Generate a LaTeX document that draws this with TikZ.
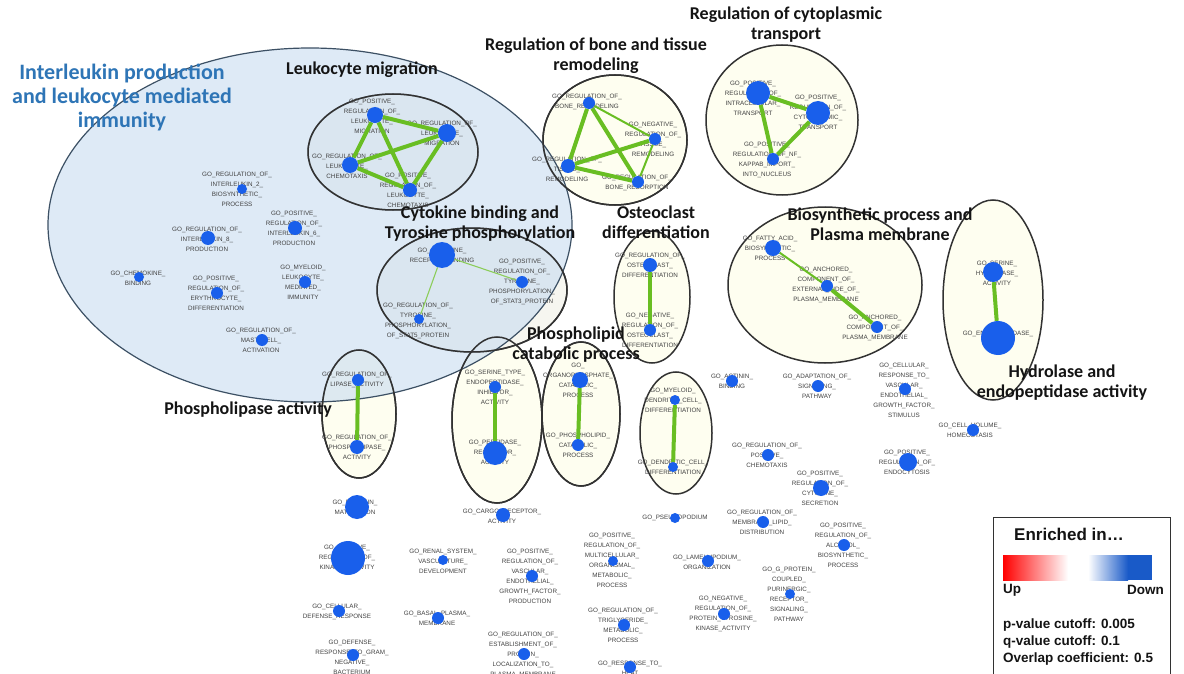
\documentclass[tikz,border=0pt]{standalone}
\usepackage{fontspec}
\setmainfont{Liberation Sans}
\newfontfamily\titlefont{Carlito}
\pgfdeclarelayer{bg}\pgfdeclarelayer{ell}\pgfdeclarelayer{lab}\pgfdeclarelayer{edg}
\pgfsetlayers{bg,ell,lab,edg,main}
\definecolor{dotblue}{RGB}{25,95,235}
\definecolor{labgray}{RGB}{65,65,65}
\definecolor{cream}{RGB}{254,254,240}
\definecolor{innerfill}{RGB}{246,246,240}
\definecolor{bigblue}{RGB}{200,220,240}
\definecolor{bigborder}{RGB}{60,80,100}
\definecolor{ellborder}{RGB}{50,50,50}
\definecolor{edgegreen}{RGB}{105,190,35}
\definecolor{thingreen}{RGB}{140,205,90}
\definecolor{titleblue}{RGB}{46,117,182}
\definecolor{titleblack}{RGB}{20,20,20}
\definecolor{legblue}{RGB}{25,90,200}
\tikzset{
  godot/.style={circle, fill=dotblue, inner sep=0pt, draw=none},
  golab/.style={font=\fontsize{6.3}{10}\selectfont, text=labgray, align=center, inner sep=0pt},
  thick edge/.style={draw=edgegreen, line width=4pt},
  mid edge/.style={draw=edgegreen, line width=2pt},
  thin edge/.style={draw=thingreen, line width=1.1pt},
  cluster/.style={draw=ellborder, line width=1.5pt, fill=cream},
  ctitle/.style={font=\titlefont\bfseries\fontsize{18}{20}\selectfont, align=center, inner sep=0pt, text=titleblack},
  legtext/.style={font=\bfseries\fontsize{13.5}{15}\selectfont, inner sep=0pt, text=titleblack},
}
\newcommand\gonode[7]{%
  \node[godot, minimum size={2*#4pt}] (#1) at (#2,#3) {};
  \begin{pgfonlayer}{lab}\node[golab] (#1l) at (#5,#6) {#7};\end{pgfonlayer}}
\begin{document}
\begin{tikzpicture}[x=1pt,y=-1pt]
\useasboundingbox (0,0) rectangle (1184,674);
\begin{pgfonlayer}{bg}
\fill[white] (0,0) rectangle (1184,674);
\end{pgfonlayer}
\begin{pgfonlayer}{ell}
% clusters under the big ellipse
\draw[cluster] (359,414) ellipse [x radius=37pt, y radius=64pt];
\draw[cluster] (497,420) ellipse [x radius=45pt, y radius=83pt];
\draw[cluster] (581,414) ellipse [x radius=39pt, y radius=72pt];
\draw[cluster] (615,140) ellipse [x radius=72pt, y radius=65pt];
\draw[cluster, fill=innerfill] (393,152) ellipse [x radius=85pt, y radius=58pt];
\draw[cluster, fill=innerfill] (472,290) ellipse [x radius=95pt, y radius=62pt];
% big blue ellipse
\draw[draw=bigborder, line width=1.2pt, fill=bigblue, fill opacity=0.6] (310,225) ellipse [x radius=262pt, y radius=177pt];
% restroke cluster borders
\draw[draw=ellborder, line width=1.5pt] (359,414) ellipse [x radius=37pt, y radius=64pt];
\draw[draw=ellborder, line width=1.5pt] (497,420) ellipse [x radius=45pt, y radius=83pt];
\draw[draw=ellborder, line width=1.5pt] (581,414) ellipse [x radius=39pt, y radius=72pt];
\draw[draw=ellborder, line width=1.5pt] (615,140) ellipse [x radius=72pt, y radius=65pt];
\draw[draw=ellborder, line width=1.5pt] (393,152) ellipse [x radius=85pt, y radius=58pt];
\draw[draw=ellborder, line width=1.5pt] (472,290) ellipse [x radius=95pt, y radius=62pt];
% other clusters
\draw[cluster] (782,120) ellipse [x radius=76pt, y radius=75pt];
\draw[cluster] (652,297) ellipse [x radius=38pt, y radius=66pt];
\draw[cluster] (825,285) ellipse [x radius=97pt, y radius=78pt];
\draw[cluster] (993,300) ellipse [x radius=50pt, y radius=100pt];
\draw[cluster] (676,433) ellipse [x radius=36pt, y radius=61pt];
\end{pgfonlayer}

% ---- Leukocyte migration
\gonode{a1}{375}{115}{8}{372}{116}{GO\_POSITIVE\_\\REGULATION\_OF\_\\LEUKOCYTE\_\\MIGRATION}
\gonode{a2}{447}{133}{9}{442}{133}{GO\_REGULATION\_OF\_\\LEUKOCYTE\_\\MIGRATION}
\gonode{a3}{350}{165}{8}{347}{166}{GO\_REGULATION\_OF\_\\LEUKOCYTE\_\\CHEMOTAXIS}
\gonode{a4}{410}{190}{7}{408}{190}{GO\_POSITIVE\_\\REGULATION\_OF\_\\LEUKOCYTE\_\\CHEMOTAXIS}
% ---- Bone
\gonode{b1}{589}{103}{6}{587}{102}{GO\_REGULATION\_OF\_\\BONE\_REMODELING}
\gonode{b2}{655}{139}{6}{653}{139}{GO\_NEGATIVE\_\\REGULATION\_OF\_\\TISSUE\_\\REMODELING}
\gonode{b3}{568}{166}{7}{567}{169}{GO\_REGULATION\_OF\_\\TISSUE\_\\REMODELING}
\gonode{b4}{638}{182}{6}{637}{183}{GO\_REGULATION\_OF\_\\BONE\_RESORPTION}
% ---- Cytoplasmic transport
\gonode{c1}{758}{93}{12}{753}{98}{GO\_POSITIVE\_\\REGULATION\_OF\_\\INTRACELLULAR\_\\TRANSPORT}
\gonode{c2}{818}{113}{12}{818}{112}{GO\_POSITIVE\_\\REGULATION\_OF\_\\CYTOPLASMIC\_\\TRANSPORT}
\gonode{c3}{773}{159}{6}{767}{160}{GO\_POSITIVE\_\\REGULATION\_OF\_NF\_\\KAPPAB\_IMPORT\_\\INTO\_NUCLEUS}
% ---- Osteoclast
\gonode{d1}{650}{265}{7}{650}{265}{GO\_REGULATION\_OF\_\\OSTEOCLAST\_\\DIFFERENTIATION}
\gonode{d2}{650}{330}{6}{650}{330}{GO\_NEGATIVE\_\\REGULATION\_OF\_\\OSTEOCLAST\_\\DIFFERENTIATION}
% ---- Biosynthetic
\gonode{e1}{773}{248}{8}{770}{248}{GO\_FATTY\_ACID\_\\BIOSYNTHETIC\_\\PROCESS}
\gonode{e2}{827}{286}{6}{826}{285}{GO\_ANCHORED\_\\COMPONENT\_OF\_\\EXTERNAL\_SIDE\_OF\_\\PLASMA\_MEMBRANE}
\gonode{e3}{877}{327}{6}{875}{328}{GO\_ANCHORED\_\\COMPONENT\_OF\_\\PLASMA\_MEMBRANE}
% ---- Hydrolase
\gonode{f1}{993}{272}{10}{997}{273}{GO\_SERINE\_\\HYDROLASE\_\\ACTIVITY}
\gonode{f2}{998}{338}{17}{998}{338}{GO\_ENDOPEPTIDASE\_\\ACTIVITY}
% ---- Cytokine
\gonode{g1}{442}{255}{13}{442}{256}{GO\_CYTOKINE\_\\RECEPTOR\_BINDING}
\gonode{g2}{522}{282}{6}{522}{282}{GO\_POSITIVE\_\\REGULATION\_OF\_\\TYROSINE\_\\PHOSPHORYLATION\_\\OF\_STAT3\_PROTEIN}
\gonode{g3}{419}{319}{5}{418}{321}{GO\_REGULATION\_OF\_\\TYROSINE\_\\PHOSPHORYLATION\_\\OF\_STAT5\_PROTEIN}
% ---- Phospholipase
\gonode{h1}{358}{380}{6}{357}{380}{GO\_REGULATION\_OF\_\\LIPASE\_ACTIVITY}
\gonode{h2}{357}{447}{7}{357}{447}{GO\_REGULATION\_OF\_\\PHOSPHOLIPASE\_\\ACTIVITY}
% ---- Serine type
\gonode{i1}{495}{387}{6}{495}{387}{GO\_SERINE\_TYPE\_\\ENDOPEPTIDASE\_\\INHIBITOR\_\\ACTIVITY}
\gonode{i2}{495}{453}{12}{495}{452}{GO\_PEPTIDASE\_\\REGULATOR\_\\ACTIVITY}
% ---- Phospholipid
\gonode{j1}{580}{380}{8}{578}{380}{GO\_\\ORGANOPHOSPHATE\_\\CATABOLIC\_\\PROCESS}
\gonode{j2}{578}{445}{6}{578}{445}{GO\_PHOSPHOLIPID\_\\CATABOLIC\_\\PROCESS}
% ---- Myeloid dendritic
\gonode{k1}{675}{400}{5}{673}{400}{GO\_MYELOID\_\\DENDRITIC\_CELL\_\\DIFFERENTIATION}
\gonode{k2}{673}{467}{5}{673}{467}{GO\_DENDRITIC\_CELL\_\\DIFFERENTIATION}
% ---- Unclustered, in the blue ellipse
\gonode{u1}{242}{189}{5}{237}{189}{GO\_REGULATION\_OF\_\\INTERLEUKIN\_2\_\\BIOSYNTHETIC\_\\PROCESS}
\gonode{u2}{295}{228}{7}{294}{228}{GO\_POSITIVE\_\\REGULATION\_OF\_\\INTERLEUKIN\_6\_\\PRODUCTION}
\gonode{u3}{208}{238}{7}{207}{239}{GO\_REGULATION\_OF\_\\INTERLEUKIN\_8\_\\PRODUCTION}
\gonode{u4}{139}{277}{5}{138}{278}{GO\_CHEMOKINE\_\\BINDING}
\gonode{u5}{217}{293}{6}{216}{293}{GO\_POSITIVE\_\\REGULATION\_OF\_\\ERYTHROCYTE\_\\DIFFERENTIATION}
\gonode{u6}{305}{282}{6}{303}{282}{GO\_MYELOID\_\\LEUKOCYTE\_\\MEDIATED\_\\IMMUNITY}
\gonode{u7}{262}{340}{6}{261}{340}{GO\_REGULATION\_OF\_\\MAST\_CELL\_\\ACTIVATION}
% ---- Unclustered, elsewhere
\gonode{v1}{732}{381}{6}{732}{381}{GO\_ACTININ\_\\BINDING}
\gonode{v2}{818}{386}{6}{817}{386}{GO\_ADAPTATION\_OF\_\\SIGNALING\_\\PATHWAY}
\gonode{v3}{905}{389}{6}{904}{390}{GO\_CELLULAR\_\\RESPONSE\_TO\_\\VASCULAR\_\\ENDOTHELIAL\_\\GROWTH\_FACTOR\_\\STIMULUS}
\gonode{v4}{973}{430}{6}{970}{430}{GO\_CELL\_VOLUME\_\\HOMEOSTASIS}
\gonode{v5}{768}{455}{6}{767}{455}{GO\_REGULATION\_OF\_\\POSITIVE\_\\CHEMOTAXIS}
\gonode{v6}{908}{462}{9}{907}{462}{GO\_POSITIVE\_\\REGULATION\_OF\_\\ENDOCYTOSIS}
\gonode{v7}{821}{488}{8}{820}{488}{GO\_POSITIVE\_\\REGULATION\_OF\_\\CYTOKINE\_\\SECRETION}
\gonode{v8}{763}{522}{6}{762}{522}{GO\_REGULATION\_OF\_\\MEMBRANE\_LIPID\_\\DISTRIBUTION}
\gonode{w1}{357}{507}{12}{355}{507}{GO\_PROTEIN\_\\MATURATION}
\gonode{w2}{503}{515}{7}{502}{516}{GO\_CARGO\_RECEPTOR\_\\ACTIVITY}
\gonode{w3}{348}{558}{17}{347}{558}{GO\_POSITIVE\_\\REGULATION\_OF\_\\KINASE\_ACTIVITY}
\gonode{w4}{443}{560}{5}{443}{561}{GO\_RENAL\_SYSTEM\_\\VASCULATURE\_\\DEVELOPMENT}
\gonode{w5}{532}{576}{6}{530}{576}{GO\_POSITIVE\_\\REGULATION\_OF\_\\VASCULAR\_\\ENDOTHELIAL\_\\GROWTH\_FACTOR\_\\PRODUCTION}
\gonode{w6}{339}{611}{6}{337}{612}{GO\_CELLULAR\_\\DEFENSE\_RESPONSE}
\gonode{w7}{438}{618}{6}{437}{618}{GO\_BASAL\_PLASMA\_\\MEMBRANE}
\gonode{w8}{353}{655}{6}{352}{657}{GO\_DEFENSE\_\\RESPONSE\_TO\_GRAM\_\\NEGATIVE\_\\BACTERIUM}
\gonode{w9}{524}{654}{6}{523}{655}{GO\_REGULATION\_OF\_\\ESTABLISHMENT\_OF\_\\PROTEIN\_\\LOCALIZATION\_TO\_\\PLASMA\_MEMBRANE}
\gonode{x1}{675}{518}{5}{675}{518}{GO\_PSEUDOPODIUM}
\gonode{x2}{844}{545}{6}{843}{545}{GO\_POSITIVE\_\\REGULATION\_OF\_\\ALCOHOL\_\\BIOSYNTHETIC\_\\PROCESS}
\gonode{x3}{613}{561}{5}{612}{560}{GO\_POSITIVE\_\\REGULATION\_OF\_\\MULTICELLULAR\_\\ORGANISMAL\_\\METABOLIC\_\\PROCESS}
\gonode{x4}{708}{561}{6}{707}{562}{GO\_LAMELLIPODIUM\_\\ORGANIZATION}
\gonode{x5}{790}{594}{5}{789}{594}{GO\_G\_PROTEIN\_\\COUPLED\_\\PURINERGIC\_\\RECEPTOR\_\\SIGNALING\_\\PATHWAY}
\gonode{x6}{724}{614}{6}{723}{614}{GO\_NEGATIVE\_\\REGULATION\_OF\_\\PROTEIN\_TYROSINE\_\\KINASE\_ACTIVITY}
\gonode{x7}{624}{625}{6}{623}{625}{GO\_REGULATION\_OF\_\\TRIGLYCERIDE\_\\METABOLIC\_\\PROCESS}
\gonode{x8}{630}{667}{6}{630}{668}{GO\_RESPONSE\_TO\_\\HEAT}

% ---- edges
\begin{pgfonlayer}{edg}
\path[thick edge] (a1) -- (a2) (a1) -- (a3) (a1) -- (a4) (a2) -- (a3) (a2) -- (a4) (a3) -- (a4);
\path[thick edge] (b1) -- (b3) (b1) -- (b4) (b2) -- (b3) (b3) -- (b4);
\path[mid edge] (b1) -- (b2) (b2) -- (b4);
\path[thick edge] (c1) -- (c2) (c1) -- (c3) (c2) -- (c3);
\path[thick edge] (d1) -- (d2);
\path[mid edge] (e1) -- (e2);
\path[thick edge] (e2) -- (e3);
\path[thick edge] (f1) -- (f2);
\path[thin edge] (g1) -- (g2) (g1) -- (g3);
\path[thick edge] (h1) -- (h2);
\path[thick edge] (i1) -- (i2);
\path[thick edge] (j1) -- (j2);
\path[thick edge] (k1) -- (k2);
\end{pgfonlayer}

% ---- cluster titles
\node[ctitle, text=titleblue, font=\titlefont\bfseries\fontsize{22}{24}\selectfont] (t0) at (122,97) {Interleukin production\\and leukocyte mediated\\immunity};
\node[ctitle] (t1) at (362,70) {Leukocyte migration};
\node[ctitle] (t2) at (596,56) {Regulation of bone and tissue\\remodeling};
\node[ctitle] (t3) at (786,25) {Regulation of cytoplasmic\\transport};
\node[ctitle] (t4) at (480,224) {Cytokine binding and\\Tyrosine phosphorylation};
\node[ctitle] (t5) at (656,222) {Osteoclast\\differentiation};
\node[ctitle] (t6) at (880,224) {Biosynthetic process and\\Plasma membrane};
\node[ctitle] (t7) at (576,345) {Phospholipid\\catabolic process};
\node[ctitle] (t8) at (248,410) {Phospholipase activity};
\node[ctitle] (t9) at (1062,383) {Hydrolase and\\endopeptidase activity};

% ---- legend
\draw[draw=ellborder, line width=1pt, fill=white] (993,517) rectangle (1170,680);
\node[legtext, anchor=west, font=\bfseries\fontsize{17}{19}\selectfont] (enr) at (1014,534) {Enriched in…};
\shade[left color=red, right color=white] (1003,555) rectangle (1068,580);
\shade[left color=white, right color=legblue] (1088,555) rectangle (1128,580);
\fill[legblue] (1127.5,555) rectangle (1152,580);
\node[legtext, anchor=west] (up) at (1003,590) {Up};
\node[legtext, anchor=east] (down) at (1164,590) {Down};
\node[legtext, anchor=west] (p) at (1003,625) {p-value cutoff: 0.005};
\node[legtext, anchor=west] (q) at (1003,642) {q-value cutoff: 0.1};
\node[legtext, anchor=west] (o) at (1003,659) {Overlap coefficient: 0.5};
\end{tikzpicture}
\end{document}
